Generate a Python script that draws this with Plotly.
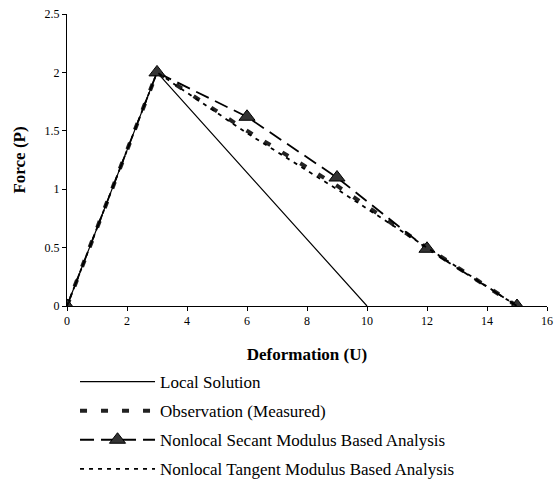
import plotly.graph_objects as go

# Data
local_x = [0, 3, 10]
local_y = [0, 2, 0]

obs_x = [0, 3, 6, 9, 12, 15]
obs_y = [0, 2, 1.5, 1.03, 0.5, 0]

secant_x = [0, 3, 6, 9, 12, 15]
secant_y = [0, 2, 1.62, 1.1, 0.49, 0]

tangent_x = [0, 3, 6, 9, 12, 15]
tangent_y = [0, 2, 1.48, 1.0, 0.5, 0]

x_ticks = [0, 2, 4, 6, 8, 10, 12, 14, 16]
y_ticks = [0, 0.5, 1, 1.5, 2, 2.5]

FONT = "Liberation Serif, Times New Roman, serif"

fig = go.Figure()
fig.add_trace(go.Scatter(x=local_x, y=local_y, mode="lines", name="Local Solution",
                         line=dict(color="black", width=1.2), legendgroup="a"))
fig.add_trace(go.Scatter(x=obs_x, y=obs_y, mode="lines", name="Observation (Measured)",
                         line=dict(color="#222", width=4, dash="7px,14px"), legendgroup="b"))
fig.add_trace(go.Scatter(x=secant_x, y=secant_y, mode="lines+markers",
                         name="Nonlocal Secant Modulus Based Analysis",
                         line=dict(color="black", width=1.8, dash="14px,7px"),
                         marker=dict(symbol="triangle-up", size=14, color="#333",
                                     line=dict(color="black", width=1)),
                         legendgroup="c"))
fig.add_trace(go.Scatter(x=tangent_x, y=tangent_y, mode="lines",
                         name="Nonlocal Tangent Modulus Based Analysis",
                         line=dict(color="black", width=1.8, dash="4px,5px"), legendgroup="d"))

fig.update_layout(
    width=559, height=492,
    margin=dict(l=67, r=12, t=14, b=186, autoexpand=False),
    paper_bgcolor="white", plot_bgcolor="white",
    font=dict(family=FONT, color="black", size=12),
    showlegend=True,
    legend=dict(x=0.0167, y=-0.1986, xanchor="left", yanchor="top",
                font=dict(family=FONT, size=17, color="black"),
                tracegroupgap=4, itemwidth=75, bgcolor="rgba(0,0,0,0)"),
    xaxis=dict(range=[0, 16], tickvals=x_ticks, showgrid=False, zeroline=False,
               showline=True, linecolor="black", linewidth=1, automargin=False,
               ticks="outside", ticklen=4, tickcolor="black",
               tickfont=dict(family=FONT, size=12),
               title=dict(text="<b>Deformation (U)</b>", font=dict(family=FONT, size=17),
                          standoff=20)),
    yaxis=dict(range=[0, 2.5], tickvals=y_ticks, showgrid=False, zeroline=False,
               showline=True, linecolor="black", linewidth=1, automargin=False,
               ticks="outside", ticklen=4, tickcolor="black",
               tickfont=dict(family=FONT, size=12),
               title=dict(text="<b>Force (P)</b>", font=dict(family=FONT, size=17),
                          standoff=14)),
)

fig.write_html("out.html", config={"displayModeBar": False},
               post_script="document.body.style.margin='0';document.body.style.overflow='hidden';")
